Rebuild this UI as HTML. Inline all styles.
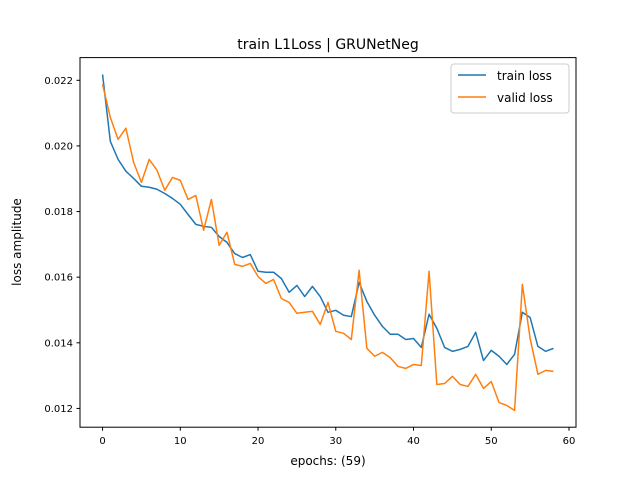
<!DOCTYPE html>
<html><head><meta charset="utf-8"><style>
body{margin:0;background:#fff;}
svg{display:block;font-family:"DejaVu Sans","Liberation Sans",sans-serif;}
</style></head><body>
<svg id="chart" width="640" height="480" viewBox="0 0 640 480">
<rect width="640" height="480" fill="#fff"/>
<text x="328" y="49" text-anchor="middle" font-size="14">train L1Loss | GRUNetNeg</text>
<text x="328" y="465" text-anchor="middle" font-size="12">epochs: (59)</text>
<text transform="translate(21,242) rotate(-90)" text-anchor="middle" font-size="12">loss amplitude</text>
<g id="ticks"></g>
<g id="series"></g>
<rect x="80" y="57.6" width="496" height="369.6" fill="none" stroke="#000" stroke-width="1"/>
<g>
<rect x="451" y="64" width="118" height="49" rx="3" fill="#fff" fill-opacity="0.8" stroke="#ccc"/>
<line x1="458" y1="75" x2="486" y2="75" stroke="#1f77b4" stroke-width="1.5"/>
<text x="497" y="80" font-size="12">train loss</text>
<line x1="458" y1="97" x2="486" y2="97" stroke="#ff7f0e" stroke-width="1.5"/>
<text x="497" y="102" font-size="12">valid loss</text>
</g>
</svg>
<script>
const trainLoss=[0.02218,0.02014,0.01959,0.01923,0.01901,0.01877,0.01874,0.01868,0.01855,0.0184,0.01822,0.01791,0.01761,0.01755,0.01752,0.01724,0.01706,0.01672,0.0166,0.01669,0.01618,0.01615,0.01615,0.01596,0.01554,0.01575,0.01541,0.01572,0.01541,0.01493,0.01499,0.01484,0.0148,0.01584,0.01526,0.01484,0.0145,0.01426,0.01426,0.0141,0.01413,0.01386,0.01487,0.01444,0.01386,0.01374,0.0138,0.01389,0.01432,0.01346,0.01377,0.01359,0.01334,0.01365,0.01493,0.01477,0.01389,0.01374,0.01383];
const validLoss=[0.02188,0.02087,0.0202,0.02054,0.0195,0.01889,0.01959,0.01926,0.01865,0.01904,0.01895,0.01837,0.01849,0.01743,0.01837,0.01697,0.01737,0.01639,0.01633,0.01642,0.01602,0.01581,0.01593,0.01535,0.01523,0.0149,0.01493,0.01496,0.01456,0.01523,0.01435,0.01429,0.0141,0.01621,0.01383,0.01359,0.01371,0.01355,0.01328,0.01322,0.01334,0.01331,0.01618,0.01273,0.01276,0.01298,0.01273,0.01267,0.01304,0.01261,0.01282,0.01218,0.01209,0.01194,0.01578,0.01413,0.01304,0.01316,0.01313];
const xTicks=[0,10,20,30,40,50,60];
const yTicks=[0.012,0.014,0.016,0.018,0.020,0.022];
const NS="http://www.w3.org/2000/svg";
const L=80,R=576,T=57.6,B=427.2;
const all=trainLoss.concat(validLoss);
const n=Math.max(trainLoss.length,validLoss.length)-1;
const xmin=-0.05*n,xmax=n*1.05;
const lo=Math.min(...all),hi=Math.max(...all),pad=(hi-lo)*0.05;
const ymin=lo-pad,ymax=hi+pad;
const sx=v=>L+(v-xmin)/(xmax-xmin)*(R-L);
const sy=v=>B-(v-ymin)/(ymax-ymin)*(B-T);
const tg=document.getElementById('ticks');
xTicks.forEach(t=>{
  const l=document.createElementNS(NS,'line');
  l.setAttribute('x1',sx(t));l.setAttribute('x2',sx(t));l.setAttribute('y1',B);l.setAttribute('y2',B+3.5);l.setAttribute('stroke','#000');
  
  
  tg.appendChild(l);
  const tx=document.createElementNS(NS,'text');
  tx.setAttribute('x',sx(t));tx.setAttribute('y',B+17);tx.setAttribute('text-anchor','middle');tx.setAttribute('font-size','10');
  tx.textContent=t;
  
  
  tg.appendChild(tx);
});
yTicks.forEach(t=>{
  const l=document.createElementNS(NS,'line');
  l.setAttribute('x1',L-3.5);l.setAttribute('x2',L);l.setAttribute('y1',sy(t));l.setAttribute('y2',sy(t));l.setAttribute('stroke','#000');
  
  
  tg.appendChild(l);
  const tx=document.createElementNS(NS,'text');
  tx.setAttribute('x',L-7);tx.setAttribute('y',sy(t)+3.5);tx.setAttribute('text-anchor','end');tx.setAttribute('font-size','10');
  tx.textContent=t.toFixed(3);
  
  
  tg.appendChild(tx);
});
const sg=document.getElementById('series');
function line(data,color,name){
  const p=document.createElementNS(NS,'polyline');
  p.setAttribute('points',data.map((v,i)=>sx(i).toFixed(2)+','+sy(v).toFixed(2)).join(' '));
  p.setAttribute('fill','none');p.setAttribute('stroke',color);p.setAttribute('stroke-width','1.5');p.setAttribute('stroke-linejoin','round');
  
  
  sg.appendChild(p);
}
line(trainLoss,'#1f77b4','train-loss-line');
line(validLoss,'#ff7f0e','valid-loss-line');
</script>
</body></html>
